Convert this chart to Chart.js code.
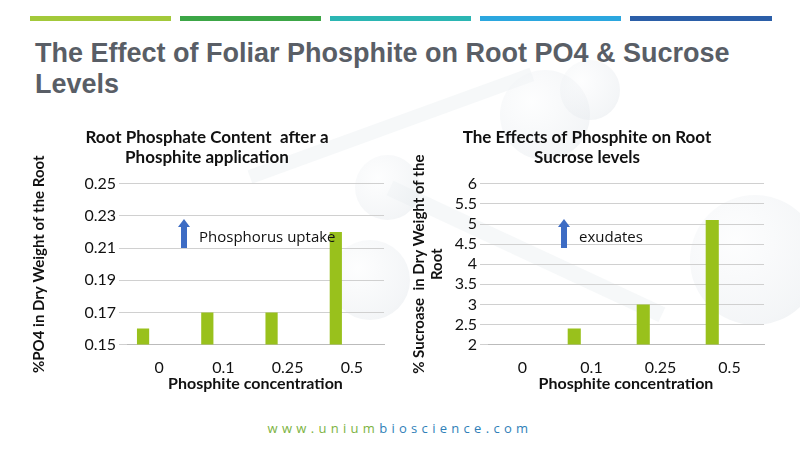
<!DOCTYPE html>
<html><head><meta charset="utf-8">
<script src="https://cdn.jsdelivr.net/npm/chart.js@4"></script>
<style>
body{margin:0;width:800px;height:449px;position:relative;overflow:hidden;background:#fff;font-family:Lato,"Open Sans",sans-serif;}
.bg{position:absolute;border-radius:50%;background:radial-gradient(circle at 35% 35%,#fbfcfd,#e6eaee 70%,#d6dce1);opacity:.45}
.stick{position:absolute;background:#eef1f3;opacity:.5;transform-origin:0 50%}
.seg{position:absolute;top:16px;height:5px}
h1{position:absolute;left:35px;top:38px;margin:0;font-size:27px;line-height:31px;color:#595e66;font-weight:bold;font-family:"Liberation Sans",Arial,sans-serif;width:740px}
.wrap{position:absolute}
.ann{position:absolute;font-size:15px;color:#111;font-family:"Open Sans",sans-serif}
.arr{position:absolute;width:0;height:0}
footer{position:absolute;left:0;width:800px;top:419px;text-align:center;font-size:13px;letter-spacing:4.3px;font-family:"Open Sans",sans-serif}
</style></head><body>
<div class="stick" style="left:250px;top:170px;width:300px;height:14px;transform:rotate(-20deg)"></div>
<div class="stick" style="left:390px;top:180px;width:300px;height:16px;transform:rotate(25deg)"></div>
<div class="bg" style="left:500px;top:70px;width:90px;height:90px"></div>
<div class="bg" style="left:355px;top:155px;width:65px;height:65px"></div>
<div class="bg" style="left:690px;top:195px;width:130px;height:130px"></div>
<div class="bg" style="left:330px;top:240px;width:80px;height:80px"></div>
<div class="bg" style="left:560px;top:60px;width:60px;height:60px"></div>
<div class="seg" style="left:30px;width:141px;background:#a3c93a"></div>
<div class="seg" style="left:180px;width:141px;background:#3ca646"></div>
<div class="seg" style="left:330px;width:141px;background:#2bb6b3"></div>
<div class="seg" style="left:480px;width:141px;background:#2ba7df"></div>
<div class="seg" style="left:630px;width:142px;background:#2b5ea8"></div>
<h1>The Effect of Foliar Phosphite on Root PO4 &amp; Sucrose Levels</h1>
<div class="wrap" style="left:30px;top:127px;width:372px;height:266px"><canvas id="c1"></canvas></div>
<div class="wrap" style="left:410px;top:127px;width:372px;height:266px"><canvas id="c2"></canvas></div>
<div class="arr" style="left:178px;top:219px;border-left:6px solid transparent;border-right:6px solid transparent;border-bottom:8px solid #3d6cc4"></div>
<div style="position:absolute;left:181px;top:227px;width:6px;height:21px;background:#3d6cc4"></div>
<div class="ann" style="left:199px;top:226px">Phosphorus uptake</div>
<div class="arr" style="left:558px;top:219px;border-left:6px solid transparent;border-right:6px solid transparent;border-bottom:8px solid #3d6cc4"></div>
<div style="position:absolute;left:561px;top:227px;width:6px;height:21px;background:#3d6cc4"></div>
<div class="ann" style="left:579px;top:226px">exudates</div>
<footer><span style="color:#7cb342">www.unium</span><span style="color:#2f7fb8">bioscience.com</span></footer>
<script>
const categories=["0","0.1","0.25","0.5"];
const po4Values=[0.16,0.17,0.17,0.22];
const sucroseValues=[null,2.4,3.0,5.1];
const po4Ticks=[0.15,0.17,0.19,0.21,0.23,0.25];
const sucroseTicks=[2,2.5,3,3.5,4,4.5,5,5.5,6];
const F="Lato, 'Open Sans', sans-serif";
function mk(id,title,ytitle,vals,ticks,min,max,yw){
 new Chart(document.getElementById(id),{type:'bar',
 data:{labels:categories,datasets:[{data:vals,backgroundColor:'#99c11c',categoryPercentage:1,barPercentage:0.38},{data:categories.map(()=>null),categoryPercentage:1,barPercentage:0.38}]},
 options:{animation:false,responsive:true,maintainAspectRatio:false,
  layout:{padding:{right:18,bottom:0}},
  plugins:{legend:{display:false},tooltip:{enabled:false},
   title:{display:true,text:title,color:'#111',font:{family:F,size:17,weight:'bold'},padding:{top:0,bottom:16}}},
  scales:{x:{grid:{display:false},border:{color:'#bbb'},ticks:{color:'#111',font:{family:F,size:16},padding:6},
    afterFit:a=>{a.height-=10;},
    title:{display:true,text:'Phosphite concentration',color:'#111',font:{family:F,size:16,weight:'bold'},padding:0}},
   y:{min:min,max:max,afterBuildTicks:a=>{a.ticks=ticks.map(v=>({value:v}));},afterFit:a=>{a.width=yw;},
    grid:{color:'#d0d0d0'},border:{display:false},ticks:{autoSkip:false,color:'#111',font:{family:F,size:16},callback:v=>String(v)},
    title:{display:true,text:ytitle,color:'#111',font:{family:F,size:15,weight:'bold'},padding:0}}}}});
}
mk('c1',['Root Phosphate Content  after a','Phosphite application'],'%PO4 in Dry Weight of the Root',po4Values,po4Ticks,0.15,0.25,97);
mk('c2',['The Effects of Phosphite on Root','Sucrose levels'],['% Sucroase  in Dry Weight of the','Root'],sucroseValues,sucroseTicks,2,6,78);
</script></body></html>
